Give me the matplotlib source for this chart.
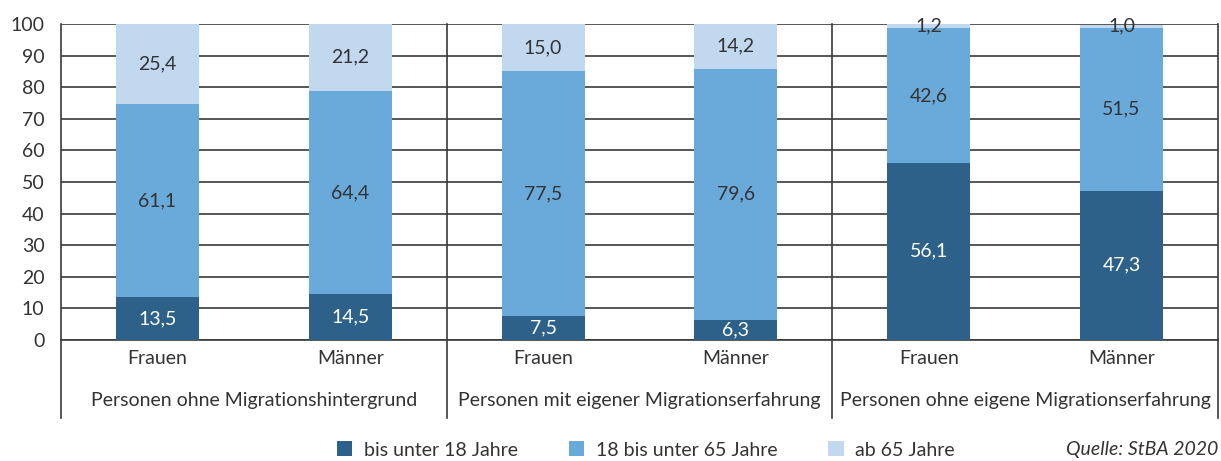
import matplotlib.pyplot as plt
import matplotlib.transforms as mtransforms
import numpy as np

plt.rcParams['font.family'] = ['Lato', 'DejaVu Sans']

# categories
geschlecht = ["Frauen", "Männer", "Frauen", "Männer", "Frauen", "Männer"]
gruppen = ["Personen ohne Migrationshintergrund",
           "Personen mit eigener Migrationserfahrung",
           "Personen ohne eigene Migrationserfahrung"]

# values in percent
unter_18 = [13.5, 14.5, 7.5, 6.3, 56.1, 47.3]
von_18_bis_65 = [61.1, 64.4, 77.5, 79.6, 42.6, 51.5]
ab_65 = [25.4, 21.2, 15.0, 14.2, 1.2, 1.0]

serien = ["bis unter 18 Jahre", "18 bis unter 65 Jahre", "ab 65 Jahre"]
farben = ["#2e6189", "#6aaadb", "#c2d8ef"]
textfarben = ["white", "#333333", "#333333"]

fig = plt.figure(figsize=(12.21, 4.61), dpi=100)
ax = fig.add_axes([0.05, 0.2625, 0.9475, 0.6855])

x = np.arange(len(geschlecht))
breite = 0.43
unten = np.zeros(len(x))
balken = []
for werte, farbe, tf, name in zip([unter_18, von_18_bis_65, ab_65], farben, textfarben, serien):
    werte = np.array(werte)
    b = ax.bar(x, werte, breite, bottom=unten, color=farbe, label=name, zorder=3)
    balken.append(b)
    for xi, w, u in zip(x, werte, unten):
        ax.text(xi, u + w / 2, f"{w:.1f}".replace(".", ","), ha="center", va="center",
                fontsize=14, color=tf, zorder=4, clip_on=False)
    unten += werte

ax.set_xlim(-0.5, 5.5)
ax.set_ylim(0, 100)
ax.set_yticks(range(0, 101, 10))
ax.tick_params(axis="y", length=0, labelsize=14, labelcolor="#333333", pad=12)
ax.grid(axis="y", color="#3a3a3a", linewidth=1.2, zorder=0)
ax.set_xticks(x)
ax.set_xticklabels(geschlecht, fontsize=14, color="#333333")
ax.tick_params(axis="x", length=0, pad=7)
for s in ["top", "right"]:
    ax.spines[s].set_visible(False)
ax.spines["left"].set_visible(False)
ax.spines["bottom"].set_color("#3a3a3a")
ax.spines["bottom"].set_linewidth(1.2)

# group separators and labels
trans = mtransforms.blended_transform_factory(ax.transData, ax.transAxes)
for xs in [-0.5, 1.5, 3.5, 5.5]:
    ax.plot([xs, xs], [1, -0.247], transform=trans, color="#3a3a3a", linewidth=1.2,
            clip_on=False, zorder=5)
for i, g in enumerate(gruppen):
    ax.text(2 * i + 0.5, -0.19, g, transform=trans, ha="center", va="center",
            fontsize=14, color="#333333")

fig.legend(handles=balken, labels=serien, loc="center", bbox_to_anchor=(0.529, 0.024),
           ncol=3, frameon=False, fontsize=14, handlelength=0.8, handleheight=0.8,
           columnspacing=2.6, handletextpad=0.6, labelcolor="#333333")
fig.text(0.9975, 0.024, "Quelle: StBA 2020", ha="right", va="center", fontsize=14,
         style="italic", color="#333333")

fig.savefig("out.png", dpi=100)
